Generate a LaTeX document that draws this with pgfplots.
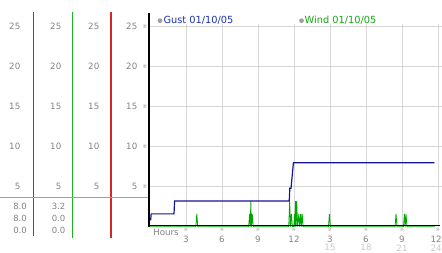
\documentclass[border=0pt]{standalone}
\usepackage{fontspec}
\setmainfont{DejaVu Sans}
\usepackage{pgfplots}
\pgfplotsset{compat=1.18}
\definecolor{gustc}{RGB}{20,20,150}
\definecolor{windc}{RGB}{0,165,0}
\definecolor{lblue}{RGB}{40,80,220}
\definecolor{lgreen}{RGB}{30,180,30}
\definecolor{lred}{RGB}{210,40,40}
\definecolor{lblc}{RGB}{130,130,130}
\definecolor{lightlbl}{RGB}{200,200,200}
\definecolor{gridc}{RGB}{215,215,215}
\definecolor{gusttxt}{RGB}{30,50,170}
\definecolor{windtxt}{RGB}{20,170,20}
\definecolor{markc}{RGB}{160,160,160}
\begin{document}
\begin{tikzpicture}
\useasboundingbox (0,0) rectangle (442pt,253pt);
\begin{axis}[at={(150pt,26.3pt)}, anchor=south west, scale only axis,
  width=292pt, height=202.4pt, xmin=0, xmax=24.33, ymin=0, ymax=25.3,
  axis line style={draw=none}, xtick={3,6,...,24}, ytick={5,10,...,25},
  xticklabels={}, yticklabels={}, major tick length=0pt, grid=major,
  major grid style={draw=gridc, line width=0.8pt}, clip=false]
\addplot[windc, line width=0.8pt] coordinates {
(0,0) (3.82,0) (3.9,1.6) (3.98,0) (8.22,0) (8.3,1.6) (8.36,0) (8.4,3.2) (8.45,0) (8.52,1.6) (8.6,0)
(11.56,0) (11.64,3.2) (11.7,0) (11.78,1.6) (11.86,0) (11.98,0) (12.05,1.6) (12.09,0) (12.12,3.2) (12.17,0)
(12.22,3.2) (12.3,0) (12.4,1.6) (12.47,0) (12.55,1.6) (12.61,0) (12.68,1.6) (12.76,0)
(14.87,0) (14.95,1.6) (15.03,0) (20.42,0) (20.5,1.6) (20.58,0) (21.12,0) (21.2,1.6) (21.26,0) (21.33,1.6) (21.41,0) (23.75,0)};
\addplot[gustc, line width=1.2pt] coordinates {
(0.05,0.8) (0.1,1.6) (2.0,1.6) (2.05,3.2) (11.6,3.2) (11.65,4.8) (11.75,4.8) (11.8,5.6) (11.95,8.0) (23.7,8.0)};
\end{axis}
\begin{scope}[yshift=253pt, x=1pt, y=-1pt]
\draw[lblue, line width=1.1pt] (33.3,12) -- (33.3,236);
\draw[lgreen, line width=1.1pt] (72.3,12) -- (72.3,238);
\draw[lred, line width=1.1pt] (111,12) -- (111,238);
\draw[markc, line width=1.8pt] (0,197.5) -- (149,197.5);
\draw[black, line width=1.6pt] (149,13) -- (149,227);
\draw[black, line width=1.5pt] (148.5,225.7) -- (440,225.7);
\foreach \v/\py in {25/26.7,20/66.7,15/106.7,10/146.7,5/186.7}{
  \node[anchor=east, inner sep=0pt, text=lblc, font=\fontsize{8.7}{10}\selectfont] at (20.5,\py) {\v};
  \node[anchor=east, inner sep=0pt, text=lblc, font=\fontsize{8.7}{10}\selectfont] at (61.5,\py) {\v};
  \node[anchor=east, inner sep=0pt, text=lblc, font=\fontsize{8.7}{10}\selectfont] at (99.5,\py) {\v};
  \node[anchor=east, inner sep=0pt, text=lblc, font=\fontsize{8.7}{10}\selectfont] at (137.5,\py) {\v};
  \node[inner sep=0pt, text=markc, font=\fontsize{5.5}{6}\selectfont] at (145,\py) {※};
}
\foreach \a/\b/\py in {8.0/3.2/206,8.0/0.0/218.5,0.0/0.0/230}{
  \node[anchor=east, inner sep=0pt, text=lblc, font=\fontsize{8.5}{10}\selectfont] at (27,\py) {\a};
  \node[anchor=east, inner sep=0pt, text=lblc, font=\fontsize{8.5}{10}\selectfont] at (65.5,\py) {\b};
}
\node[inner sep=0pt, text=lblc, font=\fontsize{8.7}{10}\selectfont] at (166,232.3) {Hours};
\foreach \px/\t in {186/3,222/6,258/9,294/12,330/3,366/6,402/9}{
  \node[inner sep=0pt, text=markc, font=\fontsize{5}{6}\selectfont] at (\px,229.8) {※};
  \node[inner sep=0pt, text=lblc, font=\fontsize{8.7}{10}\selectfont] at (\px,239.6) {\t};
}
\node[inner sep=0pt, text=markc, font=\fontsize{5}{6}\selectfont] at (438,229.8) {※};
\node[anchor=east, inner sep=0pt, text=lblc, font=\fontsize{8.7}{10}\selectfont] at (441.8,239.6) {12};
\foreach \px/\t in {330/15,366/18,402/21}{
  \node[inner sep=0pt, text=lightlbl, font=\fontsize{8.7}{10}\selectfont] at (\px,247.8) {\t};
}
\node[anchor=east, inner sep=0pt, text=lightlbl, font=\fontsize{8.7}{10}\selectfont] at (441.8,247.8) {24};
\fill[markc] (160,20.7) circle (2.4pt);
\node[anchor=west, inner sep=0pt, text=gusttxt, font=\fontsize{9.8}{11}\selectfont] at (163.3,20.7) {Gust 01/10/05};
\fill[markc] (301.5,20.7) circle (2.4pt);
\node[anchor=west, inner sep=0pt, text=windtxt, font=\fontsize{9.8}{11}\selectfont] at (304.5,20.7) {Wind 01/10/05};
\end{scope}
\end{tikzpicture}
\end{document}
